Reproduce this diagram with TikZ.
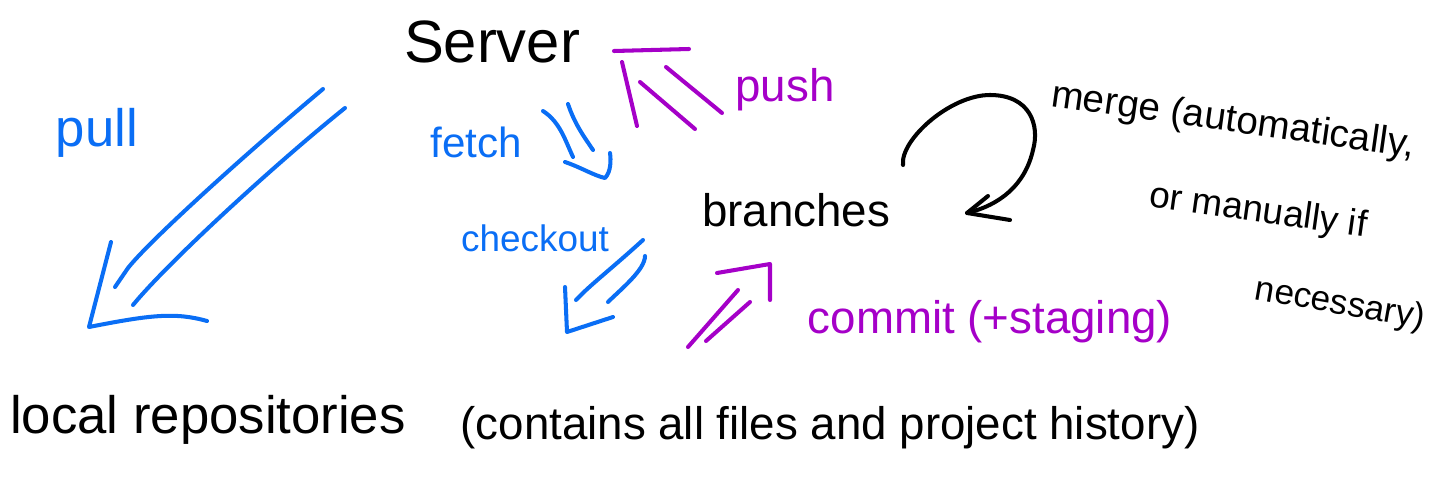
\documentclass[tikz,border=0pt]{standalone}
\usepackage{fontspec}
\setmainfont{Liberation Sans}
\definecolor{penblue}{RGB}{10,110,245}
\definecolor{penpurple}{RGB}{165,0,200}
\definecolor{penblack}{RGB}{0,0,0}
\begin{document}
\begin{tikzpicture}[x=0.02cm,y=-0.02cm,
  stroke/.style={line width=2.3pt,line cap=round,line join=round},
  lbl/.style={inner sep=0pt,anchor=center},
  fs/.style={font=\fontsize{#1}{#1}\selectfont}]
\useasboundingbox (0,0) rectangle (1430,487);

% ---- texts ----
\node[lbl,fs=34,text=penblack] (server) at (492,42) {Server};
\node[lbl,fs=26,text=penpurple] (push) at (785,90) {push};
\node[lbl,fs=30,text=penblue] (pull) at (97,133) {pull};
\node[lbl,fs=24,text=penblue] (fetch) at (476,142) {fetch};
\node[lbl,fs=21,text=penblue] (checkout) at (535,238) {checkout};
\node[lbl,fs=26,text=penblack] (branches) at (796,210) {branches};
\node[lbl,fs=26,text=penpurple] (commit) at (990,322) {commit (+staging)};
\node[lbl,fs=30,text=penblack] (local) at (208,420) {local repositories};
\node[lbl,fs=26,text=penblack] (contains) at (830,428) {(contains all files and project history)};
\node[lbl,fs=22,text=penblack,rotate=-8] (merge1) at (1233,122) {merge (automatically,};
\node[lbl,fs=21,text=penblack,rotate=-8] (merge2) at (1258,212) {or manually if};
\node[lbl,fs=20,text=penblack,rotate=-10] (merge3) at (1340,305) {necessary)};

% ---- push arrow (purple, up-left) ----
\coordinate (pushA1) at (640,82);  \coordinate (pushB1) at (695,129);
\coordinate (pushA2) at (666,67);  \coordinate (pushB2) at (722,113);
\coordinate (pushH) at (689,49);   \coordinate (pushT) at (614,51);
\coordinate (pushV) at (637,126);
\draw[stroke,penpurple] (pushA1) -- (pushB1);
\draw[stroke,penpurple] (pushA2) -- (pushB2);
\draw[stroke,penpurple] (pushT) -- (pushH);
\draw[stroke,penpurple] (622,62) -- (pushV);

% ---- pull arrow (blue, down-left) ----
\coordinate (pullS1) at (323,89);  \coordinate (pullE1) at (115,287);
\coordinate (pullS2) at (345,108); \coordinate (pullE2) at (133,305);
\coordinate (pullTip) at (89,327);
\draw[stroke,penblue] (pullS1) .. controls (250,150) and (150,240) .. (128,268) -- (pullE1);
\draw[stroke,penblue] (pullS2) .. controls (280,160) and (170,260) .. (pullE2);
\draw[stroke,penblue] (111,242) -- (pullTip) .. controls (150,315) and (175,312) .. (207,321);

% ---- fetch arrow (blue, down-right) ----
\coordinate (fetchTip) at (605,178);
\draw[stroke,penblue] (543,111) .. controls (560,122) and (565,140) .. (573,157);
\draw[stroke,penblue] (568,104) .. controls (575,125) and (585,138) .. (593,150);
\draw[stroke,penblue] (565,162) .. controls (580,167) and (595,176) .. (fetchTip) .. controls (611,172) and (611,160) .. (610,153);

% ---- checkout arrow (blue, down-left) ----
\coordinate (coTip) at (567,332);
\draw[stroke,penblue] (643,240) .. controls (610,270) and (590,285) .. (576,300);
\draw[stroke,penblue] (645,256) .. controls (645,270) and (620,290) .. (608,302);
\draw[stroke,penblue] (565,287) -- (coTip) -- (613,317);

% ---- commit arrow (purple, up-right) ----
\coordinate (comTip) at (770,264);
\draw[stroke,penpurple] (738,290) -- (688,347);
\draw[stroke,penpurple] (750,302) -- (706,341);
\draw[stroke,penpurple] (717,273) -- (comTip) -- (770,300);

% ---- merge curved arrow (black) ----
\coordinate (mergeS) at (903,165);
\coordinate (mergeTip) at (967,213);
\draw[stroke,penblack] (mergeS) .. controls (900,140) and (950,95) .. (990,95)
  .. controls (1030,95) and (1040,125) .. (1033,150)
  .. controls (1025,185) and (1000,205) .. (mergeTip);
\draw[stroke,penblack] (988,196) -- (mergeTip) -- (1010,220);
\end{tikzpicture}
\end{document}
